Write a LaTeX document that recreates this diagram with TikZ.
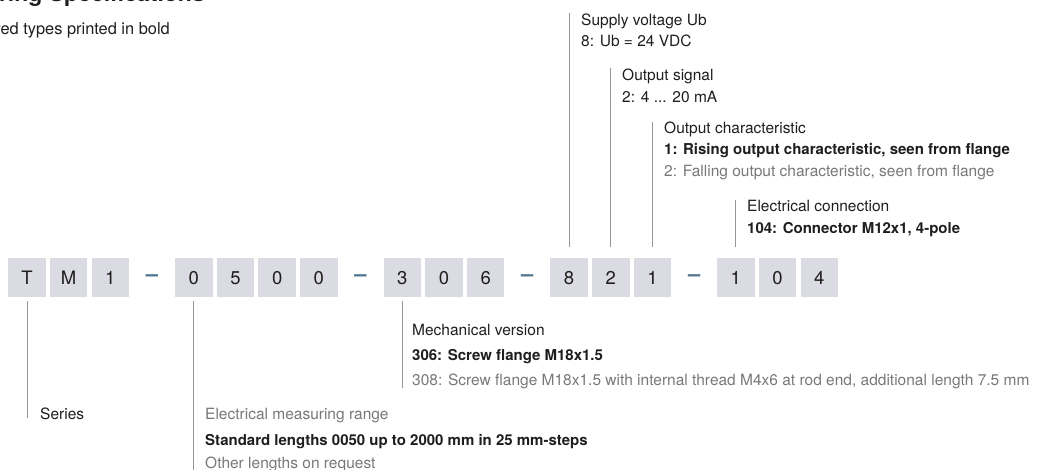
\documentclass[tikz,border=0pt]{standalone}
\usepackage{fontspec}
\setmainfont{TeX Gyre Heros}
\definecolor{boxfill}{RGB}{219,219,227}
\definecolor{dashcol}{RGB}{85,120,145}
\definecolor{txt}{RGB}{30,30,30}
\definecolor{greytxt}{RGB}{120,120,120}
\definecolor{linecol}{RGB}{150,150,150}
\begin{document}
\begin{tikzpicture}[x=1pt,y=-1pt,
  digit/.style={fill=boxfill, minimum width=37.5pt, minimum height=39pt, inner sep=0pt,
    text height=13pt, text depth=0pt, font=\fontsize{18.5}{18.5}\selectfont, text=txt, anchor=north west},
  sepdash/.style={minimum width=37.5pt, minimum height=39pt, inner sep=0pt,
    font=\fontsize{22}{22}\selectfont\bfseries, text=dashcol, anchor=north west},
  lead/.style={draw=linecol, line width=0.9pt},
  lbl/.style={anchor=base west, inner sep=0pt, font=\fontsize{15.5}{15.5}\selectfont, text=txt},
  lblb/.style={lbl, font=\fontsize{15}{15}\selectfont\bfseries},
  lblg/.style={lbl, text=greytxt}]
\useasboundingbox (0,0) rectangle (1037,470);
\clip (0,0) rectangle (1037,470);
% title
\node[anchor=base east, inner sep=0pt, font=\fontsize{23}{23}\selectfont\bfseries, text=txt] (title) at (205,2) {Ordering Specifications};
\node[anchor=base east, inner sep=0pt, font=\fontsize{16.4}{16.4}\selectfont, text=txt] (sub) at (170,35) {Preferred types printed in bold};
% code boxes
\foreach \i/\c in {0/T,1/M,2/1,4/0,5/5,6/0,7/0,9/3,10/0,11/6,13/8,14/2,15/1,17/1,18/0,19/4}
  \node[digit] (b\i) at ({8+41.7*\i},258) {\c};
\foreach \i in {3,8,12,16}
  \node[sepdash] (b\i) at ({8+41.7*\i},258) {–};
% upper labels
\node[lbl]  (sv)  at (581,25.5) {Supply voltage Ub};
\node[lbl]  (sv1) at (581,46.5) {8: Ub = 24 VDC};
\node[lbl]  (os)  at (622,80.5) {Output signal};
\node[lbl]  (os1) at (622,102.5) {2: 4 ... 20 mA};
\node[lbl]  (oc)  at (664,133.5) {Output characteristic};
\node[lblb] (oc1) at (664,154.5) {1: Rising output characteristic, seen from flange};
\node[lblg] (oc2) at (664,176.5) {2: Falling output characteristic, seen from flange};
\node[lbl]  (ec)  at (747,211.5) {Electrical connection};
\node[lblb] (ec1) at (747,233.5) {104: Connector M12x1, 4-pole};
% lower labels
\node[lbl]  (mv)  at (412,335.5) {Mechanical version};
\node[lblb] (mv1) at (412,360.5) {306: Screw flange M18x1.5};
\node[lblg] (mv2) at (412,385.5) {308: Screw flange M18x1.5 with internal thread M4x6 at rod end, additional length 7.5 mm};
\node[lbl]  (se)  at (40,419.5) {Series};
\node[lblg] (mr)  at (205,419.5) {Electrical measuring range};
\node[lblb] (mr1) at (205,445.5) {Standard lengths 0050 up to 2000 mm in 25 mm-steps};
\node[lblg] (mr2) at (205,468.5) {Other lengths on request};
% leader end points
\coordinate (t13) at (b13.north |- 0,13);
\coordinate (t14) at (b14.north |- 0,68);
\coordinate (t15) at (b15.north |- 0,122);
\coordinate (t17) at (b17.north |- 0,200);
\coordinate (e0)  at (b0.south |- 0,418);
\coordinate (e4)  at (b4.south |- 0,472);
\coordinate (e9)  at (b9.south |- 0,388);
% leaders
\foreach \n in {13,14,15,17}
  \draw[lead] ([yshift=11pt]b\n.north) -- (t\n);
\foreach \n in {0,4,9}
  \draw[lead] ([yshift=-4pt]b\n.south) -- (e\n);
\end{tikzpicture}
\end{document}
